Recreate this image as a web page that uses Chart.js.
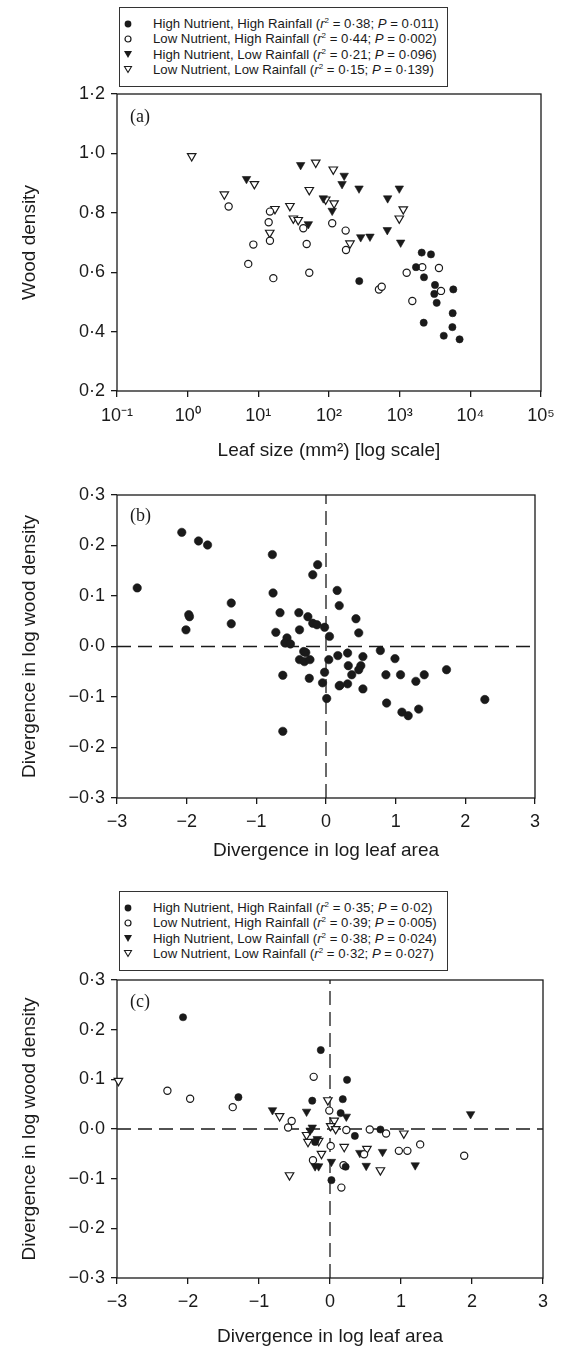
<!DOCTYPE html>
<html lang="en">
<head>
<meta charset="UTF-8">
<title>Wood density and leaf size</title>
<script src="https://cdn.jsdelivr.net/npm/chart.js"></script>
<style>
  body { margin: 0; background: #fff; }
  #page { position: relative; width: 565px; height: 1349px; font-family: "Liberation Sans", Arial, sans-serif; color: #1a1a1a; }
  canvas { position: absolute; left: 0; }
  .legend { position: absolute; left: 119px; width: 329px; height: 80px; border: 1px solid #333; background: #fff;
            box-sizing: border-box; padding-top: 8px; font-size: 13.2px; line-height: 15.3px; }
  .legend div { position: relative; height: 15.3px; padding-left: 33px; white-space: nowrap; }
  .legend svg { position: absolute; left: 3px; top: 2.6px; }
  .legend sup { font-size: 8px; line-height: 0; position: relative; top: -5px; vertical-align: baseline; }
  .tag { position: absolute; left: 130px; font-family: "Liberation Serif", serif; font-size: 18px; line-height: 20px; }
</style>
</head>
<body>
<div id="page">
  <canvas id="chartA" width="565" height="470" style="top:0"></canvas>
  <canvas id="chartB" width="565" height="400" style="top:470px"></canvas>
  <canvas id="chartC" width="565" height="479" style="top:870px"></canvas>
  <div class="legend" id="legendA" style="top:7px"></div>
  <div class="legend" id="legendC" style="top:891px"></div>
  <div class="tag" style="top:106px">(a)</div>
  <div class="tag" style="top:505px">(b)</div>
  <div class="tag" style="top:991px">(c)</div>
</div>
<script>
  // group names and stats shown in the legends
  const groupNames = [
    'High Nutrient, High Rainfall',
    'Low Nutrient, High Rainfall',
    'High Nutrient, Low Rainfall',
    'Low Nutrient, Low Rainfall'
  ];
  const statsA = [['0·38', '0·011'], ['0·44', '0·002'], ['0·21', '0·096'], ['0·15', '0·139']];
  const statsC = [['0·35', '0·02'], ['0·39', '0·005'], ['0·38', '0·024'], ['0·32', '0·027']];

  // (a) leaf size (mm2) vs wood density
  const aHighNutHighRain = [[2051, 0.666], [2773, 0.66], [1702, 0.617], [2209, 0.583], [268, 0.57], [3162, 0.557],
    [3090, 0.527], [5741, 0.542], [3342, 0.497], [5623, 0.462], [2188, 0.43], [5572, 0.415], [4207, 0.386], [7047, 0.374]];
  const aLowNutHighRain = [[3.8, 0.821], [14.6, 0.804], [14, 0.768], [14.6, 0.706], [8.5, 0.693], [7.2, 0.628], [16.3, 0.58],
    [43.3, 0.748], [48.3, 0.695], [52.6, 0.598], [111, 0.765], [172, 0.74], [174, 0.675], [2089, 0.617], [3597, 0.614],
    [1256, 0.598], [509, 0.542], [557, 0.551], [3846, 0.537], [1510, 0.503]];
  const aHighNutLowRain = [[6.8, 0.914], [39.7, 0.961], [164, 0.925], [153, 0.897], [266, 0.882], [988, 0.882], [676, 0.849],
    [83, 0.849], [111, 0.807], [51, 0.762], [668, 0.742], [281, 0.718], [380, 0.72], [1033, 0.70]];
  const aLowNutLowRain = [[1.14, 0.991], [8.8, 0.897], [3.3, 0.862], [17.2, 0.813], [14.5, 0.733], [28, 0.823], [31.3, 0.781],
    [36.7, 0.776], [64.9, 0.969], [52.6, 0.877], [115, 0.946], [89.8, 0.845], [118, 0.832], [1125, 0.812], [988, 0.781], [198, 0.697]];

  // (b) divergences, all species
  const bAll = [[-2.71, 0.116], [-2.07, 0.226], [-1.83, 0.209], [-1.70, 0.201], [-1.97, 0.063], [-1.96, 0.059], [-2.01, 0.033],
    [-1.36, 0.086], [-1.36, 0.045], [-0.77, 0.182], [-0.76, 0.106], [-0.66, 0.067], [-0.72, 0.028], [-0.56, 0.017],
    [-0.59, 0.007], [-0.51, 0.005], [-0.62, -0.057], [-0.62, -0.168], [-0.39, 0.067], [-0.38, 0.033], [-0.26, 0.059],
    [-0.19, 0.046], [-0.13, 0.043], [-0.19, 0.142], [-0.12, 0.162], [-0.02, 0.038], [0.05, 0.02], [-0.32, -0.01],
    [-0.29, -0.012], [-0.38, -0.026], [-0.31, -0.03], [-0.23, -0.026], [-0.02, -0.051], [-0.24, -0.063], [-0.05, -0.072],
    [0.16, 0.111], [0.19, 0.081], [0.04, -0.026], [0.17, -0.018], [0.19, -0.078], [0.01, -0.103], [0.43, 0.055],
    [0.47, 0.027], [0.78, -0.008], [0.99, -0.024], [0.31, -0.013], [0.53, -0.02], [0.32, -0.038], [0.5, -0.038],
    [0.47, -0.046], [0.37, -0.056], [0.86, -0.056], [1.07, -0.056], [1.29, -0.069], [1.41, -0.056], [1.73, -0.046],
    [0.31, -0.074], [0.2, -0.077], [0.53, -0.084], [2.28, -0.105], [0.87, -0.112], [1.09, -0.130], [1.18, -0.137], [1.33, -0.124]];

  // (c) divergences by group
  const cHighNutHighRain = [[-2.07, 0.225], [-0.13, 0.159], [-1.29, 0.064], [0.24, 0.099], [-0.25, 0.057], [0.18, 0.06],
    [0.15, 0.032], [0.71, -0.001], [0.35, -0.014], [-0.21, -0.026], [0.22, -0.076], [0.02, -0.103]];
  const cLowNutHighRain = [[-2.29, 0.077], [-1.97, 0.061], [-1.37, 0.044], [-0.23, 0.105], [-0.01, 0.037], [-0.54, 0.016],
    [-0.59, 0.003], [0.23, -0.002], [0.56, -0.001], [0.79, -0.009], [0.01, -0.034], [0.48, -0.051], [0.97, -0.044],
    [1.09, -0.044], [1.27, -0.031], [1.89, -0.054], [-0.24, -0.063], [0.19, -0.073], [0.16, -0.118]];
  const cHighNutLowRain = [[-0.81, 0.038], [-0.33, 0.035], [0.23, 0.025], [-0.25, 0.003], [-0.28, -0.003], [0.42, -0.048],
    [0.74, -0.046], [-0.21, -0.075], [-0.16, -0.075], [0.02, -0.066], [0.51, -0.074], [1.2, -0.073], [1.98, 0.030], [-0.18, -0.02]];
  const cLowNutLowRain = [[-2.98, 0.097], [-0.71, 0.026], [-0.03, 0.058], [0.06, 0.017], [0.01, 0.006], [0.08, 0.0],
    [1.04, -0.009], [-0.33, -0.012], [-0.31, -0.026], [-0.16, -0.024], [0.2, -0.036], [0.52, -0.04], [-0.12, -0.05],
    [0.71, -0.083], [-0.57, -0.093]];

  // axis ticks
  const aXTicks = [0.1, 1, 10, 100, 1000, 10000, 100000];
  const aXLabels = ['10\u207B\u00B9', '10\u2070', '10\u00B9', '10\u00B2', '10\u00B3', '10\u2074', '10\u2075'];
  const aYTicks = [0.2, 0.4, 0.6, 0.8, 1.0, 1.2];
  const divXTicks = [-3, -2, -1, 0, 1, 2, 3];
  const divYTicks = [-0.3, -0.2, -0.1, 0, 0.1, 0.2, 0.3];
  const zeroH = [[-3, 0], [3, 0]];
  const zeroV = [[0, -0.3], [0, 0.3]];

  const ink = '#1a1a1a';
  const family = "'Liberation Sans', Arial, sans-serif";

  const markers = [
    { style: 'circle', fill: true },
    { style: 'circle', fill: false },
    { style: 'triangle', fill: true },
    { style: 'triangle', fill: false }
  ];

  const svgMarks = [
    '<circle cx="5" cy="5" r="3.4" fill="#1a1a1a"/>',
    '<circle cx="5" cy="5" r="3" fill="#fff" stroke="#1a1a1a" stroke-width="1.2"/>',
    '<polygon points="1,2 9,2 5,9" fill="#1a1a1a"/>',
    '<polygon points="1.5,2.5 8.5,2.5 5,8.5" fill="#fff" stroke="#1a1a1a" stroke-width="1.1"/>'
  ];

  function fillLegend(id, stats) {
    document.getElementById(id).innerHTML = groupNames.map((name, i) =>
      '<div><svg width="10" height="10">' + svgMarks[i] + '</svg>' + name +
      ' (<i>r</i><sup>2</sup> = ' + stats[i][0] + '; <i>P</i> = ' + stats[i][1] + ')</div>').join('');
  }
  fillLegend('legendA', statsA);
  fillLegend('legendC', statsC);

  function scatterSet(points, m, r) {
    const tri = m.style === 'triangle';
    return {
      data: points.map(p => ({ x: p[0], y: p[1] })),
      pointStyle: m.style,
      pointRotation: tri ? 180 : 0,
      pointRadius: tri ? r + 1.3 : r,
      pointBackgroundColor: m.fill ? ink : '#fff',
      pointBorderColor: ink,
      pointBorderWidth: m.fill ? 0.6 : 1.2,
      clip: false,
      order: 1
    };
  }

  function dashLine(points) {
    return {
      data: points.map(p => ({ x: p[0], y: p[1] })),
      showLine: true,
      borderColor: ink,
      borderWidth: 1.3,
      borderDash: [14, 7],
      pointRadius: 0,
      order: 10
    };
  }

  const frame = {
    id: 'frame',
    beforeDatasetsDraw(chart) {
      const { ctx, chartArea: a } = chart;
      ctx.save();
      ctx.strokeStyle = ink;
      ctx.lineWidth = 1.3;
      ctx.strokeRect(a.left, a.top, a.right - a.left, a.bottom - a.top);
      ctx.restore();
    }
  };

  const fmtNum = v => (v < 0 ? '\u2212' : '') + Math.abs(v).toFixed(1).replace('.', '\u00B7');
  const fmtInt = v => (v < 0 ? '\u2212' : '') + Math.abs(v);

  function axis(o) {
    return {
      type: o.type || 'linear',
      min: o.min,
      max: o.max,
      afterBuildTicks: s => { s.ticks = o.ticks.map(v => ({ value: v })); },
      afterFit: s => { if (o.width) s.width = o.width; if (o.height) s.height = o.height; },
      grid: { drawOnChartArea: false, drawTicks: true, tickLength: 6, color: ink, lineWidth: 1.3 },
      border: { display: false },
      ticks: { color: ink, font: { family, size: 18 }, padding: o.pad, maxRotation: 0, autoSkip: false,
               callback: o.label },
      title: { display: true, text: o.title, color: ink, font: { family, size: 19 }, padding: o.titlePad }
    };
  }

  function makePanel(id, datasets, box, xOpt, yOpt) {
    new Chart(document.getElementById(id), {
      type: 'scatter',
      data: { datasets },
      options: {
        responsive: false,
        animation: false,
        events: [],
        layout: { padding: { left: 0, top: box.top, right: box.right, bottom: 0 } },
        plugins: { legend: { display: false }, tooltip: { enabled: false } },
        scales: { x: axis(xOpt), y: axis(yOpt) }
      },
      plugins: [frame]
    });
  }

  const yDivTitle = 'Divergence in log wood density';
  const xDivTitle = 'Divergence in log leaf area';

  makePanel('chartA',
    [aHighNutHighRain, aLowNutHighRain, aHighNutLowRain, aLowNutLowRain].map((g, i) => scatterSet(g, markers[i], 3.6)),
    { top: 94, right: 24 },
    { type: 'logarithmic', min: 0.1, max: 100000, ticks: aXTicks, height: 79, pad: 8,
      label: (v, i) => aXLabels[i], title: 'Leaf size (mm\u00B2) [log scale]', titlePad: { bottom: 7.6 } },
    { min: 0.2, max: 1.2, ticks: aYTicks, width: 117, pad: 6, label: v => fmtNum(v),
      title: 'Wood density', titlePad: { top: 18.6 } });

  makePanel('chartB',
    [scatterSet(bAll, markers[0], 4.2), dashLine(zeroH), dashLine(zeroV)],
    { top: 25, right: 30 },
    { min: -3, max: 3, ticks: divXTicks, height: 72, pad: 7.5, label: v => fmtInt(v),
      title: xDivTitle, titlePad: { bottom: 7.6 } },
    { min: -0.3, max: 0.3, ticks: divYTicks, width: 117, pad: 6, label: v => fmtNum(v),
      title: yDivTitle, titlePad: { top: 18.6 } });

  makePanel('chartC',
    [cHighNutHighRain, cLowNutHighRain, cHighNutLowRain, cLowNutLowRain].map((g, i) => scatterSet(g, markers[i], 3.6))
      .concat([dashLine(zeroH), dashLine(zeroV)]),
    { top: 110, right: 22 },
    { min: -3, max: 3, ticks: divXTicks, height: 71, pad: 7.5, label: v => fmtInt(v),
      title: xDivTitle, titlePad: { bottom: 1 } },
    { min: -0.3, max: 0.3, ticks: divYTicks, width: 117, pad: 6, label: v => fmtNum(v),
      title: yDivTitle, titlePad: { top: 18.6 } });
</script>
</body>
</html>
